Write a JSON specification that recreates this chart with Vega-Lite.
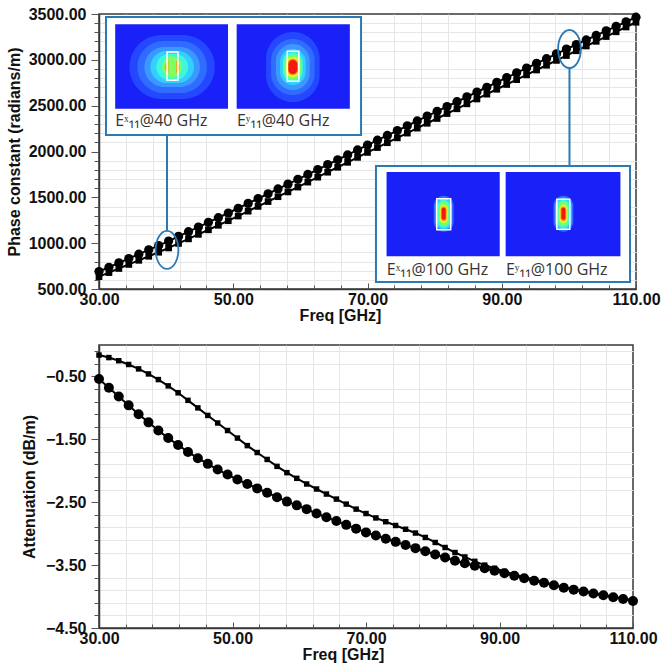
{
  "$schema": "https://vega.github.io/schema/vega-lite/v6.json",
  "background": "white",
  "padding": {"left": 5, "top": 5, "right": 0, "bottom": 0},
  "columns": 1,
  "spacing": 20,
  "datasets": {
    "phase": [
      {"f":30.00,"c":690,"s":635},{"f":31.48,"c":737,"s":679},{"f":32.96,"c":785,"s":724},{"f":34.44,"c":832,"s":768},
      {"f":35.93,"c":880,"s":813},{"f":37.41,"c":927,"s":857},{"f":38.89,"c":974,"s":901},{"f":40.37,"c":1023,"s":948},
      {"f":41.85,"c":1074,"s":997},{"f":43.33,"c":1125,"s":1047},{"f":44.81,"c":1176,"s":1096},{"f":46.30,"c":1227,"s":1146},
      {"f":47.78,"c":1278,"s":1195},{"f":49.26,"c":1329,"s":1245},{"f":50.74,"c":1381,"s":1296},{"f":52.22,"c":1434,"s":1349},
      {"f":53.70,"c":1486,"s":1401},{"f":55.19,"c":1539,"s":1454},{"f":56.67,"c":1592,"s":1507},{"f":58.15,"c":1644,"s":1559},
      {"f":59.63,"c":1697,"s":1612},{"f":61.11,"c":1750,"s":1666},{"f":62.59,"c":1803,"s":1720},{"f":64.07,"c":1857,"s":1774},
      {"f":65.56,"c":1910,"s":1828},{"f":67.04,"c":1963,"s":1882},{"f":68.52,"c":2017,"s":1936},{"f":70.00,"c":2070,"s":1990},
      {"f":71.48,"c":2123,"s":2043},{"f":72.96,"c":2175,"s":2096},{"f":74.44,"c":2228,"s":2149},{"f":75.93,"c":2280,"s":2201},
      {"f":77.41,"c":2333,"s":2255},{"f":78.89,"c":2386,"s":2308},{"f":80.37,"c":2438,"s":2360},{"f":81.85,"c":2491,"s":2414},
      {"f":83.33,"c":2543,"s":2466},{"f":84.81,"c":2596,"s":2520},{"f":86.30,"c":2649,"s":2573},{"f":87.78,"c":2701,"s":2626},
      {"f":89.26,"c":2754,"s":2679},{"f":90.74,"c":2806,"s":2731},{"f":92.22,"c":2858,"s":2784},{"f":93.70,"c":2910,"s":2836},
      {"f":95.19,"c":2962,"s":2889},{"f":96.67,"c":3013,"s":2941},{"f":98.15,"c":3065,"s":2994},{"f":99.63,"c":3117,"s":3047},
      {"f":101.11,"c":3167,"s":3099},{"f":102.59,"c":3217,"s":3151},{"f":104.07,"c":3266,"s":3202},{"f":105.56,"c":3316,"s":3254},
      {"f":107.04,"c":3366,"s":3306},{"f":108.52,"c":3415,"s":3358},{"f":110.00,"c":3465,"s":3410}
    ],
    "atten": [
      {"f":30.00,"c":-0.54,"s":-0.16},{"f":31.48,"c":-0.68,"s":-0.20},{"f":32.96,"c":-0.82,"s":-0.25},{"f":34.44,"c":-0.96,"s":-0.31},
      {"f":35.93,"c":-1.10,"s":-0.38},{"f":37.41,"c":-1.23,"s":-0.46},{"f":38.89,"c":-1.36,"s":-0.55},{"f":40.37,"c":-1.48,"s":-0.65},
      {"f":41.85,"c":-1.59,"s":-0.76},{"f":43.33,"c":-1.70,"s":-0.88},{"f":44.81,"c":-1.80,"s":-1.00},{"f":46.30,"c":-1.89,"s":-1.12},
      {"f":47.78,"c":-1.98,"s":-1.24},{"f":49.26,"c":-2.06,"s":-1.36},{"f":50.74,"c":-2.14,"s":-1.48},{"f":52.22,"c":-2.21,"s":-1.60},
      {"f":53.70,"c":-2.28,"s":-1.71},{"f":55.19,"c":-2.35,"s":-1.82},{"f":56.67,"c":-2.42,"s":-1.93},{"f":58.15,"c":-2.49,"s":-2.03},
      {"f":59.63,"c":-2.55,"s":-2.12},{"f":61.11,"c":-2.61,"s":-2.21},{"f":62.59,"c":-2.68,"s":-2.29},{"f":64.07,"c":-2.74,"s":-2.37},
      {"f":65.56,"c":-2.80,"s":-2.45},{"f":67.04,"c":-2.86,"s":-2.53},{"f":68.52,"c":-2.92,"s":-2.61},{"f":70.00,"c":-2.98,"s":-2.68},
      {"f":71.48,"c":-3.03,"s":-2.75},{"f":72.96,"c":-3.08,"s":-2.81},{"f":74.44,"c":-3.13,"s":-2.87},{"f":75.93,"c":-3.18,"s":-2.93},
      {"f":77.41,"c":-3.23,"s":-2.99},{"f":78.89,"c":-3.28,"s":-3.06},{"f":80.37,"c":-3.33,"s":-3.14},{"f":81.85,"c":-3.38,"s":-3.22},
      {"f":83.33,"c":-3.43,"s":-3.30},{"f":84.81,"c":-3.47,"s":-3.37},{"f":86.30,"c":-3.51,"s":-3.44},{"f":87.78,"c":-3.55,"s":-3.50},
      {"f":89.26,"c":-3.59,"s":-3.55},{"f":90.74,"c":-3.63,"s":-3.60},{"f":92.22,"c":-3.67,"s":-3.65},{"f":93.70,"c":-3.71,"s":-3.69},
      {"f":95.19,"c":-3.75,"s":-3.73},{"f":96.67,"c":-3.78,"s":-3.77},{"f":98.15,"c":-3.82,"s":-3.81},{"f":99.63,"c":-3.86,"s":-3.85},
      {"f":101.11,"c":-3.89,"s":-3.88},{"f":102.59,"c":-3.92,"s":-3.91},{"f":104.07,"c":-3.95,"s":-3.94},{"f":105.56,"c":-3.98,"s":-3.97},
      {"f":107.04,"c":-4.01,"s":-4.00},{"f":108.52,"c":-4.04,"s":-4.03},{"f":110.00,"c":-4.07,"s":-4.06}
    ],
    "boxes": [
      {"x1":31.04,"x2":69.04,"y1":2180,"y2":3467},
      {"x1":71.26,"x2":109.11,"y1":577,"y2":1842}
    ],
    "heatbg": [
      {"x1":32.41,"x2":49.22,"y1":2467,"y2":3388},
      {"x1":50.51,"x2":67.37,"y1":2467,"y2":3388},
      {"x1":72.84,"x2":89.70,"y1":857,"y2":1776},
      {"x1":90.58,"x2":107.68,"y1":857,"y2":1776}
    ],
    "heat": [
      {"x1":34.54,"x2":47.26,"y1":2573,"y2":3271,"lvl":1},
      {"x1":35.72,"x2":46.08,"y1":2638,"y2":3206,"lvl":2},
      {"x1":36.76,"x2":45.04,"y1":2704,"y2":3140,"lvl":3},
      {"x1":37.65,"x2":44.15,"y1":2747,"y2":3097,"lvl":4},
      {"x1":38.53,"x2":43.27,"y1":2780,"y2":3064,"lvl":5},
      {"x1":39.42,"x2":42.38,"y1":2813,"y2":3031,"lvl":6},
      {"x1":39.80,"x2":42.00,"y1":2840,"y2":3004,"lvl":8},
      {"x1":40.35,"x2":41.50,"y1":2800,"y2":3044,"lvl":6},
      {"x1":54.89,"x2":62.87,"y1":2540,"y2":3304,"lvl":1},
      {"x1":55.63,"x2":62.13,"y1":2617,"y2":3227,"lvl":2},
      {"x1":56.37,"x2":61.39,"y1":2671,"y2":3173,"lvl":3},
      {"x1":56.96,"x2":60.80,"y1":2726,"y2":3118,"lvl":4},
      {"x1":57.40,"x2":60.36,"y1":2758,"y2":3086,"lvl":5},
      {"x1":57.62,"x2":60.14,"y1":2786,"y2":3058,"lvl":6},
      {"x1":57.84,"x2":59.92,"y1":2813,"y2":3031,"lvl":7},
      {"x1":58.07,"x2":59.69,"y1":2829,"y2":3015,"lvl":8},
      {"x1":58.21,"x2":59.55,"y1":2846,"y2":2998,"lvl":9},
      {"x1":79.87,"x2":82.83,"y1":1125,"y2":1517,"lvl":2},
      {"x1":80.12,"x2":82.58,"y1":1146,"y2":1496,"lvl":4},
      {"x1":80.46,"x2":82.24,"y1":1168,"y2":1474,"lvl":5},
      {"x1":80.61,"x2":82.09,"y1":1190,"y2":1452,"lvl":6},
      {"x1":80.76,"x2":81.94,"y1":1223,"y2":1419,"lvl":7},
      {"x1":80.91,"x2":81.79,"y1":1239,"y2":1403,"lvl":8},
      {"x1":81.05,"x2":81.65,"y1":1256,"y2":1386,"lvl":9},
      {"x1":97.70,"x2":100.66,"y1":1125,"y2":1517,"lvl":2},
      {"x1":97.95,"x2":100.41,"y1":1146,"y2":1496,"lvl":4},
      {"x1":98.29,"x2":100.07,"y1":1168,"y2":1474,"lvl":5},
      {"x1":98.44,"x2":99.92,"y1":1190,"y2":1452,"lvl":6},
      {"x1":98.59,"x2":99.77,"y1":1223,"y2":1419,"lvl":7},
      {"x1":98.74,"x2":99.62,"y1":1239,"y2":1403,"lvl":8},
      {"x1":98.88,"x2":99.48,"y1":1256,"y2":1386,"lvl":9}
    ],
    "wg": [
      {"x1":40.14,"x2":41.77,"y1":2777,"y2":3085},
      {"x1":58.05,"x2":59.77,"y1":2766,"y2":3093},
      {"x1":80.32,"x2":82.39,"y1":1147,"y2":1485},
      {"x1":98.21,"x2":100.14,"y1":1151,"y2":1479}
    ],
    "labels": [
      {"x":32.41,"y":2278,"t":"Eˣ₁₁@40 GHz"},
      {"x":50.55,"y":2278,"t":"Eʸ₁₁@40 GHz"},
      {"x":72.88,"y":653,"t":"Eˣ₁₁@100 GHz"},
      {"x":90.63,"y":653,"t":"Eʸ₁₁@100 GHz"}
    ],
    "conn": [
      {"x":40.13,"y1":2180,"y2":1133},
      {"x":100.09,"y1":1842,"y2":2911}
    ],
    "ell": [
      {"x":40.13,"y":926},
      {"x":100.09,"y":3118}
    ]
  },
  "concat": [
    {
      "width": 537,
      "height": 275,
      "resolve": {"axis": {"x": "independent", "y": "independent"}},
      "layer": [
        {
          "data": {"name": "heatbg"},
          "mark": {"type": "rect", "fill": "#1a20f8", "opacity": 0},
          "encoding": {
            "x": {"field": "x1", "type": "quantitative", "title": null,
              "scale": {"domain": [30, 110], "nice": false, "zero": false},
              "axis": {"orient": "bottom", "values": [34,38,42,46,54,58,62,66,74,78,82,86,94,98,102,106], "labels": false, "domain": false, "title": null,
                "gridColor": "#e6e6e6", "tickSize": -4}},
            "x2": {"field": "x2"},
            "y": {"field": "y1", "type": "quantitative", "title": null,
              "scale": {"domain": [500, 3500], "nice": false, "zero": false},
              "axis": {"orient": "left", "values": [600,700,800,900,1100,1200,1300,1400,1600,1700,1800,1900,2100,2200,2300,2400,2600,2700,2800,2900,3100,3200,3300,3400],
                "labels": false, "domain": false, "title": null, "gridColor": "#e6e6e6", "tickSize": 5}},
            "y2": {"field": "y2"}
          }
        },
        {
          "data": {"name": "boxes"},
          "mark": {"type": "rect", "fill": "white", "stroke": "#2a7ab5", "strokeWidth": 2},
          "encoding": {
            "x": {"field": "x1", "type": "quantitative", "title": "Freq [GHz]",
              "axis": {"orient": "bottom", "values": [30,50,70,90,110], "format": ".2f", "labelFlush": false, "labelOverlap": false,
                "gridColor": "#c4c4c4", "tickSize": -6, "labelPadding": 8, "titlePadding": 0, "titleX": 241}},
            "x2": {"field": "x2"},
            "y": {"field": "y1", "type": "quantitative", "title": "Phase constant (radians/m)",
              "axis": {"orient": "left", "values": [500,1000,1500,2000,2500,3000,3500], "format": ".2f", "labelFlush": false, "labelOverlap": false,
                "gridColor": "#c4c4c4", "tickSize": 8, "labelPadding": 5, "titlePadding": 6}},
            "y2": {"field": "y2"}
          }
        },
        {
          "data": {"name": "heatbg"},
          "mark": {"type": "rect", "fill": "#1a20f8"},
          "encoding": {
            "x": {"field": "x1", "type": "quantitative", "axis": null},
            "x2": {"field": "x2"},
            "y": {"field": "y1", "type": "quantitative", "axis": null},
            "y2": {"field": "y2"}
          }
        },
        {
          "data": {"name": "heat"},
          "mark": {"type": "rect", "cornerRadius": 999},
          "encoding": {
            "x": {"field": "x1", "type": "quantitative", "axis": null},
            "x2": {"field": "x2"},
            "y": {"field": "y1", "type": "quantitative", "axis": null},
            "y2": {"field": "y2"},
            "color": {"field": "lvl", "type": "ordinal", "legend": null,
              "scale": {"domain": [1,2,3,4,5,6,7,8,9],
                "range": ["#2448ff","#2f6cff","#3a98ff","#30d0ff","#40f8d8","#7cff60","#e0ff30","#ff9a10","#f01a10"]}}
          }
        },
        {
          "data": {"name": "wg"},
          "mark": {"type": "rect", "fillOpacity": 0, "stroke": "white", "strokeWidth": 1.5},
          "encoding": {
            "x": {"field": "x1", "type": "quantitative", "axis": null},
            "x2": {"field": "x2"},
            "y": {"field": "y1", "type": "quantitative", "axis": null},
            "y2": {"field": "y2"}
          }
        },
        {
          "data": {"name": "labels"},
          "mark": {"type": "text", "align": "left", "baseline": "alphabetic", "font": "Open Sans", "fontSize": 16, "color": "#333333"},
          "encoding": {
            "x": {"field": "x", "type": "quantitative", "axis": null},
            "y": {"field": "y", "type": "quantitative", "axis": null},
            "text": {"field": "t"}
          }
        },
        {
          "data": {"name": "conn"},
          "mark": {"type": "rule", "color": "#2a7ab5", "strokeWidth": 2},
          "encoding": {
            "x": {"field": "x", "type": "quantitative", "axis": null},
            "y": {"field": "y1", "type": "quantitative", "axis": null},
            "y2": {"field": "y2"}
          }
        },
        {
          "data": {"name": "phase"},
          "mark": {"type": "line", "color": "black", "strokeWidth": 2},
          "encoding": {
            "x": {"field": "f", "type": "quantitative", "axis": null},
            "y": {"field": "c", "type": "quantitative", "axis": null}
          }
        },
        {
          "data": {"name": "phase"},
          "mark": {"type": "point", "shape": "circle", "filled": true, "color": "black", "opacity": 1, "size": 85},
          "encoding": {
            "x": {"field": "f", "type": "quantitative", "axis": null},
            "y": {"field": "c", "type": "quantitative", "axis": null}
          }
        },
        {
          "data": {"name": "phase"},
          "mark": {"type": "line", "color": "black", "strokeWidth": 2},
          "encoding": {
            "x": {"field": "f", "type": "quantitative", "axis": null},
            "y": {"field": "s", "type": "quantitative", "axis": null}
          }
        },
        {
          "data": {"name": "phase"},
          "mark": {"type": "point", "shape": "square", "filled": true, "color": "black", "opacity": 1, "size": 45},
          "encoding": {
            "x": {"field": "f", "type": "quantitative", "axis": null},
            "y": {"field": "s", "type": "quantitative", "axis": null}
          }
        },
        {
          "data": {"name": "ell"},
          "mark": {"type": "point", "shape": "M0,-1A0.6,1,0,1,1,0,1A0.6,1,0,1,1,0,-1Z", "filled": false, "stroke": "#2a7ab5", "strokeWidth": 1.8, "opacity": 1, "size": 1444},
          "encoding": {
            "x": {"field": "x", "type": "quantitative", "axis": null},
            "y": {"field": "y", "type": "quantitative", "axis": null}
          }
        }
      ]
    },
    {
      "width": 534,
      "height": 283,
      "data": {"name": "atten"},
      "resolve": {"axis": {"x": "independent", "y": "independent"}},
      "layer": [
        {
          "mark": {"type": "line", "opacity": 0},
          "encoding": {
            "x": {"field": "f", "type": "quantitative", "title": null,
              "scale": {"domain": [30, 110], "nice": false, "zero": false},
              "axis": {"orient": "bottom", "values": [34,38,42,46,54,58,62,66,74,78,82,86,94,98,102,106], "labels": false, "domain": false, "title": null,
                "gridColor": "#e6e6e6", "tickSize": -4}},
            "y": {"field": "s", "type": "quantitative", "title": null,
              "scale": {"domain": [-4.5, 0], "nice": false, "zero": false},
              "axis": {"orient": "left", "values": [-4.3,-4.1,-3.9,-3.7,-3.3,-3.1,-2.9,-2.7,-2.3,-2.1,-1.9,-1.7,-1.3,-1.1,-0.9,-0.7,-0.3,-0.1],
                "labels": false, "domain": false, "title": null, "gridColor": "#e6e6e6", "tickSize": 5}}
          }
        },
        {
          "mark": {"type": "line", "color": "black", "strokeWidth": 2},
          "encoding": {
            "x": {"field": "f", "type": "quantitative", "title": "Freq [GHz]",
              "axis": {"orient": "bottom", "values": [30,50,70,90,110], "format": ".2f", "labelFlush": false, "labelOverlap": false,
                "gridColor": "#c4c4c4", "tickSize": -6, "labelPadding": 8, "titlePadding": 0, "titleX": 244}},
            "y": {"field": "s", "type": "quantitative", "title": "Attenuation (dB/m)",
              "axis": {"orient": "left", "values": [-4.5,-3.5,-2.5,-1.5,-0.5], "format": ".2f", "labelFlush": false, "labelOverlap": false,
                "gridColor": "#c4c4c4", "tickSize": 8, "labelPadding": 5, "titlePadding": 8}}
          }
        },
        {
          "mark": {"type": "point", "shape": "square", "filled": true, "color": "black", "opacity": 1, "size": 30},
          "encoding": {
            "x": {"field": "f", "type": "quantitative", "axis": null},
            "y": {"field": "s", "type": "quantitative", "axis": null}
          }
        },
        {
          "mark": {"type": "line", "color": "black", "strokeWidth": 2},
          "encoding": {
            "x": {"field": "f", "type": "quantitative", "axis": null},
            "y": {"field": "c", "type": "quantitative", "axis": null}
          }
        },
        {
          "mark": {"type": "point", "shape": "circle", "filled": true, "color": "black", "opacity": 1, "size": 100},
          "encoding": {
            "x": {"field": "f", "type": "quantitative", "axis": null},
            "y": {"field": "c", "type": "quantitative", "axis": null}
          }
        }
      ]
    }
  ],
  "config": {
    "font": "Liberation Sans",
    "view": {"stroke": "#3a3a3a", "strokeWidth": 1.5},
    "axis": {
      "labelFont": "Liberation Sans", "labelFontWeight": "bold", "labelFontSize": 16, "labelColor": "#111111",
      "titleFont": "Liberation Sans", "titleFontWeight": "bold", "titleFontSize": 16, "titleColor": "#111111",
      "domainColor": "#3a3a3a", "domainWidth": 1.5, "tickColor": "#555555", "gridWidth": 1
    }
  }
}
